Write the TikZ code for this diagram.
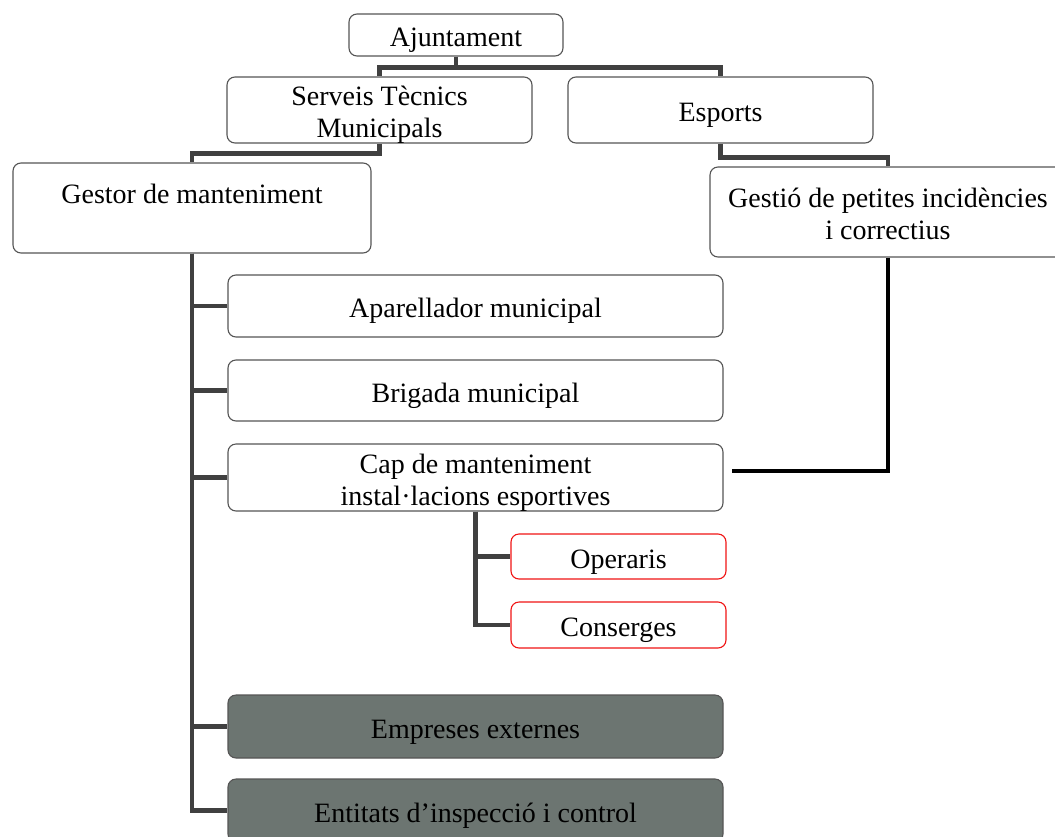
\documentclass[tikz,border=0pt]{standalone}
\usepackage{fontspec}
\setmainfont{Liberation Serif}
\definecolor{conn}{RGB}{64,64,64}
\definecolor{bord}{RGB}{85,85,85}
\definecolor{darkfill}{RGB}{108,117,113}
\definecolor{redb}{RGB}{240,20,20}
\newcommand{\bxt}[1]{\raisebox{-11.4pt}[0pt][0pt]{\begin{tabular}{@{}c@{}}#1\end{tabular}}}
\begin{document}
\begin{tikzpicture}[x=1pt,y=-1pt,
  box/.style={draw=bord,line width=1.1pt,rounded corners=8pt,fill=white,
    inner sep=0pt,font=\fontsize{28}{32}\selectfont},
  redbox/.style={box,draw=redb},
  darkbox/.style={box,fill=darkfill},
  link/.style={draw=conn,line width=4.5pt},
  blink/.style={draw=black,line width=4.5pt}]
\useasboundingbox (0,0) rectangle (1055,836);
\node[box,minimum width=214pt,minimum height=42pt] (aj) at (456,35) {\bxt{Ajuntament}};
\node[box,minimum width=305pt,minimum height=66pt] (stm) at (379.5,110) {\bxt{Serveis Tècnics\\Municipals}};
\node[box,minimum width=305pt,minimum height=66pt] (esp) at (720.5,110) {\bxt{Esports}};
\node[box,minimum width=358pt,minimum height=90pt] (gm) at (192,208) {\bxt{Gestor de manteniment\\\mbox{}}};
\node[box,minimum width=356pt,minimum height=90pt] (gpi) at (888,212) {\bxt{Gestió de petites incidències\\i correctius}};
\node[box,minimum width=495pt,minimum height=62pt] (apa) at (475.5,306) {\bxt{Aparellador municipal}};
\node[box,minimum width=495pt,minimum height=61pt] (bri) at (475.5,390.5) {\bxt{Brigada municipal}};
\node[box,minimum width=495pt,minimum height=67pt] (cap) at (475.5,477.5) {\bxt{Cap de manteniment\\instal·lacions esportives}};
\node[redbox,minimum width=215pt,minimum height=45pt] (ope) at (618.5,556.5) {\bxt{Operaris}};
\node[redbox,minimum width=215pt,minimum height=46pt] (con) at (618.5,625) {\bxt{Conserges}};
\node[darkbox,minimum width=495pt,minimum height=63pt] (emp) at (475.5,726.5) {\bxt{Empreses externes}};
\node[darkbox,minimum width=495pt,minimum height=63pt] (ent) at (475.5,810.5) {\bxt{Entitats d’inspecció i control}};
\coordinate (capend) at (732,471);
% connectors
\draw[link] (aj.south) -- ++(0,11) -| (stm.north);
\draw[link] (aj.south) -- ++(0,11) -| (esp.north);
\draw[link] (stm.south) -- ++(0,10) -| (gm.north);
\draw[link] (esp.south) -- ++(0,14) -| (gpi.north);
\draw[link] (gm.south) |- (apa.west);
\draw[link] (gm.south) |- (bri.west);
\draw[link] (gm.south) |- (cap.west);
\draw[link] (gm.south) |- (emp.west);
\draw[link] (gm.south) |- (ent.west);
\draw[link] (cap.south) |- (ope.west);
\draw[link] (cap.south) |- (con.west);
\draw[blink] (gpi.south) |- (capend);
\end{tikzpicture}
\end{document}
